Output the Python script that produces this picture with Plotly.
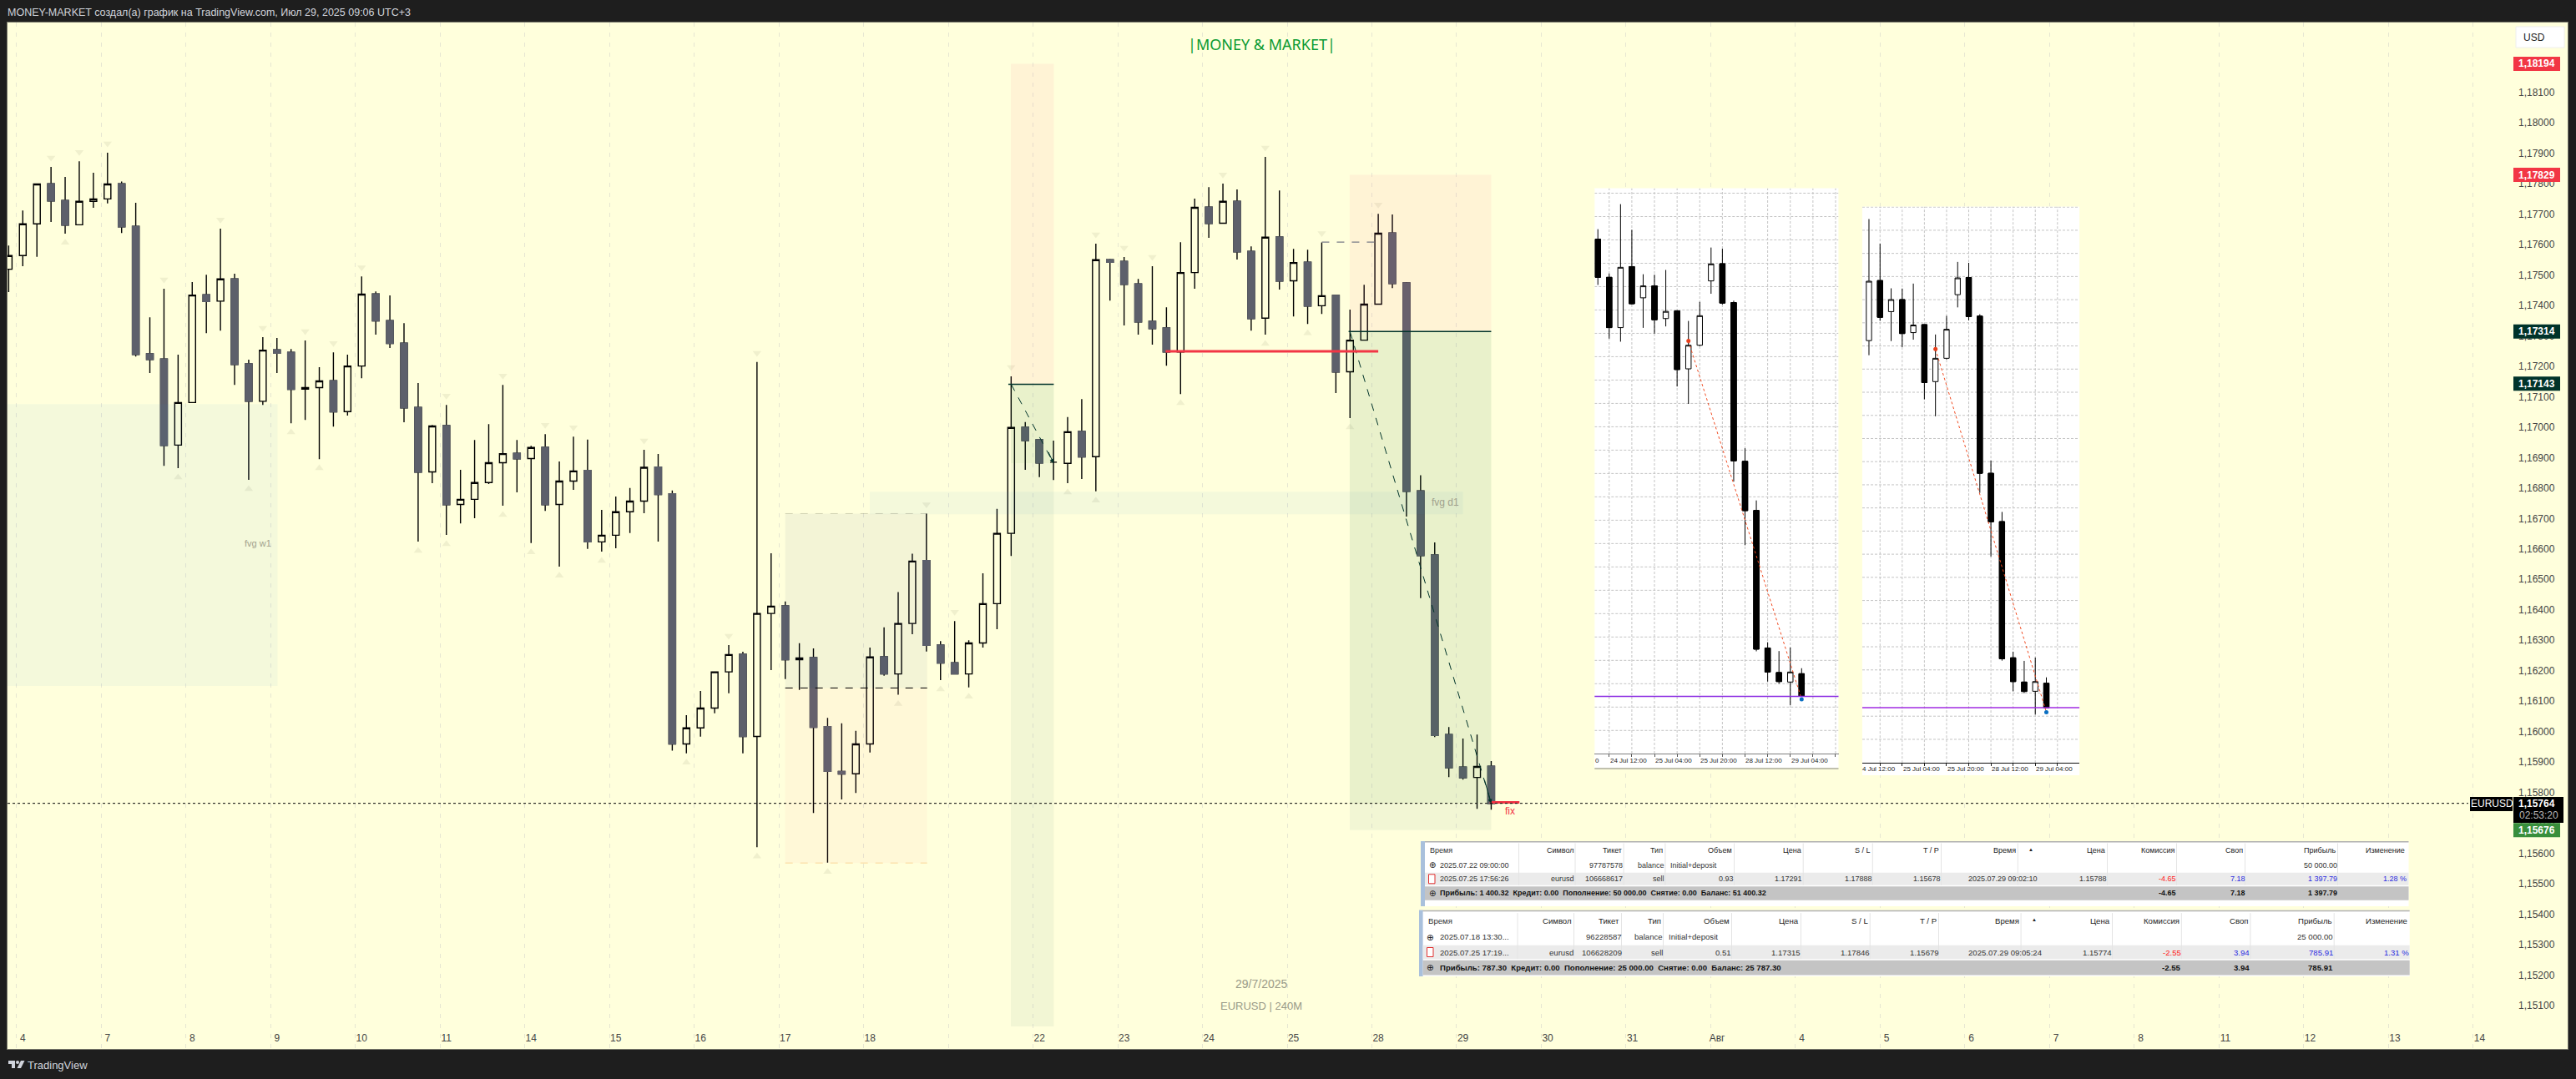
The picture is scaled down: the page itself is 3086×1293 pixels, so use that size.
import plotly.graph_objects as go

W, H = 3086, 1293
BG = "#ffffdc"
PAPER = "#1e1e1e"
DOWN = "#5d606b"
FONT = "Liberation Sans"
PT = 1e-5

# ---------- main EURUSD 4h candles, prices in points (1e-5) ----------
candle_index = list(range(-1, 105))
open_pts = [117519,117564,117668,117800,117745,117665,117742,117750,117800,117660,117241,117224,116941,117081,117435,117414,117487,117208,117085,117254,117246,117125,117130,117153,117051,117201,117438,117350,117276,117065,116853,117005,116746,116763,116818,116883,116914,116897,116934,116746,116823,116858,116623,116645,116722,116757,116869,116781,115959,116012,116077,116196,116254,115984,116388,116413,116236,116243,116016,115869,115861,115959,116246,116189,116355,116562,116284,116226,116189,116291,116420,116651,117000,116959,116885,116881,116986,116903,117550,117545,117471,117348,117326,117247,117508,117723,117670,117742,117578,117358,117625,117481,117542,117399,117433,117182,117286,117404,117638,117474,116791,116580,115990,115883,115849,115886]
high_pts = [117597,117712,117799,117855,117822,117874,117836,117902,117807,117737,117361,117455,117238,117477,117501,117652,117504,117222,117296,117293,117257,117285,117197,117246,117238,117495,117446,117433,117342,117145,117007,117073,116860,116958,117010,117139,116958,116939,116977,116887,116969,116959,116728,116772,116800,116926,116912,116792,116054,116133,116196,116284,116262,117214,116586,116427,116290,116273,116045,116027,116002,116276,116342,116458,116584,116716,116297,116363,116300,116520,116732,117167,117017,116959,116956,117033,117092,117603,117553,117559,117487,117529,117394,117608,117751,117789,117800,117781,117594,117888,117778,117586,117583,117607,117435,117386,117468,117701,117699,117477,116842,116621,116015,115977,115990,115903]
low_pts = [117444,117529,117560,117674,117636,117665,117721,117735,117638,117232,117178,116873,116865,117081,117309,117317,117139,116827,117073,117178,117013,117024,116895,117002,117038,117161,117304,117260,117016,116624,116816,116646,116684,116701,116813,116742,116786,116619,116725,116542,116794,116600,116591,116602,116652,116717,116624,115937,115928,115983,116060,116126,115928,115620,116202,116172,116137,115732,115569,115777,115798,115931,116183,116121,116320,116263,116169,116189,116145,116276,116336,116577,116860,116836,116826,116816,116830,116789,117416,117334,117304,117271,117202,117109,117455,117622,117670,117551,117317,117304,117452,117364,117339,117372,117112,117030,117286,117404,117457,116706,116438,115982,115850,115842,115746,115743]
close_pts = [117564,117668,117799,117743,117664,117742,117750,117799,117658,117239,117222,116940,117081,117434,117413,117487,117206,117085,117253,117243,117124,117130,117152,117050,117201,117437,117349,117275,117063,116852,117004,116745,116763,116818,116883,116913,116896,116933,116745,116823,116856,116623,116645,116722,116757,116868,116779,115959,116012,116077,116196,116253,115984,116388,116412,116236,116242,116014,115869,115860,115959,116245,116189,116355,116560,116283,116225,116189,116291,116420,116651,116999,116956,116882,116885,116985,116902,117550,117542,117469,117346,117324,117247,117508,117722,117669,117742,117576,117357,117624,117480,117541,117398,117432,117181,117286,117404,117637,117472,116789,116578,115987,115881,115848,115885,115764]

pivot_high_index = [2,4,6,10,14,17,20,22,24,30,34,37,39,44,50,52,64,66,70,76,78,80,85,88,92,96]
pivot_low_index = [3,11,16,19,21,28,30,34,36,38,41,47,52,57,62,65,67,74,76,82,88,91,94]

day_labels = ["4","7","8","9","10","11","14","15","16","17","18","","22","23","24","25","28","29","30","31","Авг","4","5","6","7","8","11","12","13","14"]
price_ticks = [1.151,1.152,1.153,1.154,1.155,1.156,1.157,1.158,1.159,1.160,1.161,1.162,1.163,1.164,1.165,1.166,1.167,1.168,1.169,1.170,1.171,1.172,1.173,1.174,1.175,1.176,1.177,1.178,1.179,1.180,1.181]

# ---------- MT chart screenshot 1 ----------
mini1_open = [117718,117558,117347,117603,117472,117522,117385,117417,117174,117273,117543,117615,117452,116786,116580,116003,115900,115860,115895]
mini1_high = [117760,117574,117865,117757,117571,117569,117589,117421,117375,117455,117683,117678,117460,116841,116622,116027,115990,116005,115918]
mini1_low = [117526,117301,117288,117444,117346,117322,117352,117100,117027,117269,117489,117444,116701,116434,115989,115862,115853,115763,115800]
mini1_close = [117558,117347,117600,117447,117522,117380,117415,117171,117273,117397,117614,117450,116788,116579,115998,115902,115862,115902,115800]
mini1_entry, mini1_exit, mini1_level = 1.17291, 1.15788, 1.15800

# ---------- MT chart screenshot 2 ----------
mini2_open = [117351,117606,117474,117525,117385,117419,117177,117276,117546,117619,117455,116788,116583,116005,115902,115863,115897]
mini2_high = [117867,117762,117573,117572,117593,117419,117377,117456,117685,117681,117463,116842,116624,116031,115992,116006,115922]
mini2_low = [117289,117435,117349,117323,117355,117102,117030,117271,117492,117437,116705,116435,115993,115863,115855,115764,115792]
mini2_close = [117603,117450,117525,117381,117417,117173,117276,117399,117617,117453,116788,116582,116001,115904,115862,115904,115793]
mini2_entry, mini2_exit, mini2_level = 1.17315, 1.15774, 1.15793

mini1_dates = ["24 Jul 12:00","25 Jul 04:00","25 Jul 20:00","28 Jul 12:00","29 Jul 04:00"]
mini2_dates = ["25 Jul 04:00","25 Jul 20:00","28 Jul 12:00","29 Jul 04:00"]

# ---------- trade tables ----------
t1_head = ["Символ","Тикет","Тип","Объем","Цена","S / L","T / P","Время","Цена","Комиссия","Своп","Прибыль","Изменение"]
t1_head_x = [1884.5,1942.6,1992.4,2075,2157.7,2240.8,2323,2414.8,2522,2605,2687,2798,2881]
t1_deposit = ["97787578","balance","50 000.00"]
t1_deal = ["eurusd","106668617","sell","0.93","1.17291","1.17888","1.15678","2025.07.29 09:02:10","1.15788","-4.65","7.18","1 397.79","1.28 %"]
t1_deal_x = [1886,1944,1994,2077,2159,2242.7,2325,2440.8,2523.9,2606.5,2689.6,2799.8,2882.8]
t1_sum = "Прибыль: 1 400.32  Кредит: 0.00  Пополнение: 50 000.00  Снятие: 0.00  Баланс: 51 400.32"
t2_head_x = [1883,1940,1990,2072,2155,2237.7,2320,2418.6,2528,2610.8,2693.4,2793.7,2883.6]
t2_deposit = ["96228587","balance","25 000.00"]
t2_deal = ["eurusd","106628209","sell","0.51","1.17315","1.17846","1.15679","2025.07.29 09:05:24","1.15774","-2.55","3.94","785.91","1.31 %"]
t2_deal_x = [1884.8,1942.6,1992,2074.3,2157.3,2240,2323,2447.3,2530.4,2612.7,2695.3,2794.8,2885.5]
t2_sum = "Прибыль: 787.30  Кредит: 0.00  Пополнение: 25 000.00  Снятие: 0.00  Баланс: 25 787.30"

o = [v * PT for v in open_pts]
h = [v * PT for v in high_pts]
l = [v * PT for v in low_pts]
c = [v * PT for v in close_pts]
pts = lambda a: [v * PT for v in a]

X = lambda px: px / W
Y = lambda py: 1 - py / H

fig = go.Figure()

def candles(xv, op, hi, lo, cl, xa, ya, up_fill, down_fill, wick, lw):
    """Wick/outline layer then a body-only layer for down candles."""
    fig.add_trace(go.Candlestick(x=xv, open=op, high=hi, low=lo, close=cl, xaxis=xa, yaxis=ya,
        increasing=dict(line=dict(color=wick, width=lw), fillcolor=up_fill),
        decreasing=dict(line=dict(color=wick, width=lw), fillcolor=down_fill),
        hoverinfo="skip", showlegend=False))
    dx = [a for a, p, q in zip(xv, op, cl) if q < p]
    dop = [p for p, q in zip(op, cl) if q < p]
    dcl = [q for p, q in zip(op, cl) if q < p]
    fig.add_trace(go.Candlestick(x=dx, open=dop, high=dop, low=dcl, close=dcl, xaxis=xa, yaxis=ya,
        decreasing=dict(line=dict(color=down_fill, width=lw), fillcolor=down_fill),
        hoverinfo="skip", showlegend=False))

# white backing of the two pasted charts (the part that holds their date labels), on the main axes
for a, b, top, bot in [(111.3, 128.6, 1.17785, 1.15881), (130.28, 145.66, 1.17725, 1.15856)]:
    fig.add_trace(go.Scatter(x=[a, b, b, a, a], y=[top, top, bot, bot, top], mode="lines", fill="toself",
                             fillcolor="white", line=dict(width=0), hoverinfo="skip", showlegend=False))

candles(candle_index, o, h, l, c, "x", "y", BG, DOWN, "#000000", 1.4)

pivot_colour = "rgba(120,120,90,0.11)"
by_index = dict(zip(candle_index, zip(h, l)))
fig.add_trace(go.Scatter(x=pivot_high_index, y=[by_index[i][0] + 30 * PT for i in pivot_high_index], mode="markers",
                         marker=dict(symbol="triangle-down", size=9, color=pivot_colour), hoverinfo="skip", showlegend=False))
fig.add_trace(go.Scatter(x=pivot_low_index, y=[by_index[i][1] - 30 * PT for i in pivot_low_index], mode="markers",
                         marker=dict(symbol="triangle-up", size=9, color=pivot_colour), hoverinfo="skip", showlegend=False))

# mini charts: every subplot paints plot_bgcolor, so white and the grid are traces on a base subplot
# and the candles sit on an overlaying subplot above them
def mini_base(xa, ya, xr, yr, xgrid, y0, dy):
    fig.add_trace(go.Scatter(x=[xr[0], xr[1], xr[1], xr[0], xr[0]], y=[yr[0], yr[0], yr[1], yr[1], yr[0]],
                             mode="lines", fill="toself", fillcolor="white", line=dict(width=0),
                             xaxis=xa, yaxis=ya, hoverinfo="skip", showlegend=False))
    gx, gy = [], []
    for v in xgrid:
        gx += [v, v, None]
        gy += [yr[0], yr[1], None]
    v = y0
    while v < yr[1]:
        gx += [xr[0], xr[1], None]
        gy += [v, v, None]
        v += dy
    fig.add_trace(go.Scatter(x=gx, y=gy, mode="lines", xaxis=xa, yaxis=ya, line=dict(color="#c4c4c4", width=1, dash="3px,2px"),
                             hoverinfo="skip", showlegend=False))

m1_xr, m1_yr = [-0.29, 21.26], [1.15560, 1.17932]
m2_xr, m2_yr = [-0.6, 18.98], [1.15559, 1.17920]
m1_xg = [1, 3, 5, 7, 9, 11, 13, 15, 17, 19, 21]
m2_xg = [1, 3, 5, 7, 9, 11, 13, 15, 17]
mini_base("x2", "y2", m1_xr, m1_yr, m1_xg, 1.15657, 0.00098)
mini_base("x3", "y3", m2_xr, m2_yr, m2_xg, 1.15659, 0.000982)

j1 = list(range(len(mini1_open)))
j2 = list(range(len(mini2_open)))
candles(j1, pts(mini1_open), pts(mini1_high), pts(mini1_low), pts(mini1_close), "x4", "y4", "white", "#000000", "#000000", 1)
candles(j2, pts(mini2_open), pts(mini2_high), pts(mini2_low), pts(mini2_close), "x5", "y5", "white", "#000000", "#000000", 1)
for xa, ya, x0, x1, e0, e1 in [("x4", "y4", 8, 18, mini1_entry, mini1_exit), ("x5", "y5", 6, 16, mini2_entry, mini2_exit)]:
    fig.add_trace(go.Scatter(x=[x0, x1], y=[e0, e1], mode="lines", xaxis=xa, yaxis=ya,
                             line=dict(color="#f04a20", width=1, dash="dot"), hoverinfo="skip", showlegend=False))
    fig.add_trace(go.Scatter(x=[x0], y=[e0], mode="markers", xaxis=xa, yaxis=ya,
                             marker=dict(color="#e8401c", size=5), hoverinfo="skip", showlegend=False))
    fig.add_trace(go.Scatter(x=[x1], y=[e1], mode="markers", xaxis=xa, yaxis=ya,
                             marker=dict(color="#0a6fc2", size=5), hoverinfo="skip", showlegend=False))

shapes = []
def zone(x0, x1, y0, y1, color):
    shapes.append(dict(type="rect", xref="x", yref="y", x0=x0, x1=x1, y0=y0, y1=y1,
                       fillcolor=color, line=dict(width=0), layer="above"))
def seg(x0, x1, y0, y1, color, width=1, dash="solid"):
    shapes.append(dict(type="line", xref="x", yref="y", x0=x0, x1=x1, y0=y0, y1=y1,
                       line=dict(color=color, width=width, dash=dash), layer="above"))
def prect(x0, x1, y0, y1, color, line=None, lw=0):
    shapes.append(dict(type="rect", xref="paper", yref="paper", x0=X(x0), x1=X(x1), y0=Y(y1), y1=Y(y0),
                       fillcolor=color, line=dict(width=lw, color=line or color), layer="above"))
def pline(x0, x1, y0, y1, color, width=1):
    shapes.append(dict(type="line", xref="paper", yref="paper", x0=X(x0), x1=X(x1), y0=Y(y0), y1=Y(y1),
                       line=dict(color=color, width=width), layer="above"))

ORANGE = "rgba(255,105,140,0.08)"
GREEN = "rgba(35,115,60,0.10)"
PALE = "rgba(0,75,80,0.05)"
FVG = "rgba(30,135,220,0.05)"
TEAL = "#00332a"
RED = "#f23645"

zone(-1.08, 18.05, 1.16150, 1.17076, FVG)
zone(59.99, 102.0, 1.16714, 1.16788, FVG)
zone(54.0, 64.05, 1.16143, 1.16716, "rgba(55,72,120,0.06)")
zone(54.0, 64.05, 1.15568, 1.16143, "rgba(255,115,140,0.05)")
seg(54.0, 64.05, 1.16716, 1.16716, "rgba(90,90,70,0.25)", 1, "dash")
seg(54.0, 64.05, 1.15568, 1.15568, "rgba(240,150,40,0.35)", 1, "dash")
seg(54.0, 64.05, 1.16143, 1.16143, "#000000", 1, "dash")

zone(69.98, 73.02, 1.17141, 1.18194, ORANGE)
zone(69.98, 73.02, 1.16882, 1.17141, GREEN)
zone(69.98, 73.02, 1.15031, 1.16882, PALE)
seg(69.8, 73.02, 1.17141, 1.17141, TEAL, 1.5)
seg(70.0, 73.0, 1.17141, 1.16882, TEAL, 1, "dash")

zone(93.98, 104.0, 1.17314, 1.17829, ORANGE)
zone(93.98, 104.0, 1.15764, 1.17314, GREEN)
zone(93.98, 104.0, 1.15676, 1.15764, PALE)
seg(93.9, 104.0, 1.17314, 1.17314, TEAL, 1.5)
seg(94.0, 104.0, 1.17314, 1.15764, TEAL, 1, "dash")

seg(80.94, 96.0, 1.17249, 1.17249, RED, 3)
seg(92.0, 96.0, 1.17608, 1.17608, "#787b86", 1.2, "dash")
seg(103.9, 106.0, 1.15767, 1.15767, RED, 3)
seg(-1.08, 173.2, 1.15764, 1.15764, "#000000", 1, "dot")

# mini chart levels
shapes.append(dict(type="line", xref="x2 domain", yref="y2", x0=0, x1=1, y0=mini1_level, y1=mini1_level,
                   line=dict(color="#8a2be2", width=1.5), layer="above"))
shapes.append(dict(type="line", xref="x3 domain", yref="y3", x0=0, x1=1, y0=mini2_level, y1=mini2_level,
                   line=dict(color="#a02be2", width=1.5), layer="above"))
pline(1910.3, 2202.5, 921, 921, "#808080", 1)

# ---------- annotations ----------
ann = []
def note(text, px, py, size=12, color="#333333", anchor="left", bold=False, font=FONT):
    ann.append(dict(text=f"<b>{text}</b>" if bold else text, xref="paper", yref="paper", x=X(px), y=Y(py),
                    xanchor=anchor, yanchor="middle", showarrow=False, borderpad=0, borderwidth=0,
                    font=dict(family=font, size=size, color=color)))

note("MONEY-MARKET создал(а) график на TradingView.com, Июл 29, 2025 09:06 UTC+3", 9, 15, 12.5, "#d1d4dc")
note("TradingView", 33, 1276, 13, "#d1d4dc")
note("|MONEY &amp; MARKET|", 1511, 53, 18, "#0a9a32", "center", font="Noto Sans")
note("29/7/2025", 1511, 1179, 14, "#9a9a88", "center")
note("EURUSD | 240M", 1511, 1205, 13, "#9a9a88", "center")
note("fvg w1", 309, 651, 11, "#a0a08c", "center")
note("fvg d1", 1731, 602, 12, "#a0a08c", "center")
note("fix", 1809, 971.7, 12, RED, "center")

# logo
lx = lambda v: f"{X(v):.5f}"
ly = lambda v: f"{Y(v):.5f}"
shapes.append(dict(type="path", xref="paper", yref="paper", layer="above", fillcolor="#d1d4dc", line=dict(width=0),
    path=f"M{lx(10)},{ly(1271)} L{lx(18)},{ly(1271)} L{lx(18)},{ly(1280)} L{lx(14)},{ly(1280)} L{lx(14)},{ly(1275)} L{lx(10)},{ly(1275)} Z"))
shapes.append(dict(type="circle", xref="paper", yref="paper", layer="above", fillcolor="#d1d4dc", line=dict(width=0),
                   x0=X(19), x1=X(23), y0=Y(1275), y1=Y(1271)))
shapes.append(dict(type="path", xref="paper", yref="paper", layer="above", fillcolor="#d1d4dc", line=dict(width=0),
    path=f"M{lx(25)},{ly(1271)} L{lx(29.5)},{ly(1271)} L{lx(25)},{ly(1280)} L{lx(20.5)},{ly(1280)} Z"))

# USD box
shapes.append(dict(type="rect", xref="paper", yref="paper", x0=X(3014), x1=X(3072), y0=Y(57), y1=Y(32),
                   fillcolor="white", line=dict(color="#eeeeee", width=1), layer="above"))
note("USD", 3023, 44.5, 12, "#222222")

# price tags
def tag(price, label, color):
    shapes.append(dict(type="rect", xref="paper", yref="y", xsizemode="scaled", ysizemode="pixel", yanchor=price,
                       x0=X(3011), x1=X(3067), y0=-8.5, y1=8.5, fillcolor=color, line=dict(width=0), layer="above"))
    ann.append(dict(text=f"<b>{label}</b>", xref="paper", yref="y", x=X(3061), y=price, xanchor="right", yanchor="middle",
                    showarrow=False, borderpad=0, borderwidth=0, font=dict(family=FONT, size=12, color="white")))
tag(1.18194, "1,18194", RED)
tag(1.17829, "1,17829", RED)
tag(1.17314, "1,17314", TEAL)
tag(1.17143, "1,17143", TEAL)
tag(1.15676, "1,15676", "#388e3c")
prect(2959, 3010, 955, 972, "#000000")
prect(3011, 3071, 955, 986, "#000000")
note("EURUSD", 2985, 963, 12, "white", "center")
note("<b>1,15764</b>", 3061, 962.7, 12, "white", "right")
note("02:53:20", 3065, 976.7, 12, "#b8b8b8", "right")

# tables
def table(tx0, tx1, ty0, ty1, bar, ys, head_x, deposit, deal, deal_x, time_text, summary, size):
    prect(tx0, tx1, ty0, ty1, "white")
    prect(tx0, tx1, ty0, ty0 + 1.5, "#b0b0b0")
    prect(tx0, bar, ty0, ty1, "#a9c0dc")
    yh, y1, y2, y3 = ys
    rh = (y3 - y2)
    prect(bar, tx1, y2 - rh / 2 + 1, y2 + rh / 2 - 1, "#ebebeb")
    prect(bar, tx1, y3 - rh / 2 + 0.5, y3 + rh / 2, "#c4c4c4")
    xs = [head_x[0] - 65] + [v + 2.5 for v in head_x[:-1]]
    for xv in xs:
        pline(xv, xv, yh - rh / 2, y2 + rh / 2 - 1, "#e4e4e4", 1)
    note("Время", head_x[0] - 172, yh, size)
    for t, xv in zip(t1_head, head_x):
        note(t, xv, yh, size, "#222222", "right")
    note("▲", head_x[7] + 18, yh - 1, 6, "#222222", "center")
    note("⊕", tx0 + 13.5, y1, size + 1, "#222222", "center", font="DejaVu Sans")
    note(time_text[0], 1725, y1, size, "#333333")
    note(deposit[0], deal_x[1], y1, size, "#333333", "right")
    note(deposit[1], deal_x[2], y1, size, "#333333", "right")
    note("Initial+deposit", deal_x[2] + 6.5, y1, size, "#333333")
    note(deposit[2], deal_x[11], y1, size, "#333333", "right")
    prect(tx0 + 9.5, tx0 + 17, y2 - 5.5, y2 + 5.5, "white", "#e03030", 1)
    note(time_text[1], 1725, y2, size, "#333333")
    colours = ["#333333"] * 9 + ["#ff2020", "#2a2ae0", "#2a2ae0", "#2a2ae0"]
    for t, xv, col in zip(deal, deal_x, colours):
        note(t, xv, y2, size, col, "right")
    note("⊕", tx0 + 13.5, y3, size + 1, "#222222", "center", font="DejaVu Sans")
    note(summary, 1725, y3, size, "#111111", bold=True)
    for idx in (9, 10, 11):
        note(deal[idx], deal_x[idx], y3, size, "#111111", "right", bold=True)

table(1702, 2885.5, 1008, 1086, 1707, (1019, 1036.7, 1053.3, 1070.3), t1_head_x, t1_deposit, t1_deal, t1_deal_x,
      ("2025.07.22 09:00:00", "2025.07.25 17:56:26"), t1_sum, 9)
table(1700, 2886.7, 1090.7, 1170, 1704.6, (1103.3, 1122.7, 1141, 1159.3), t2_head_x, t2_deposit, t2_deal, t2_deal_x,
      ("2025.07.18 13:30...", "2025.07.25 17:19..."), t2_sum, 9.6)

# mini axis labels
for t, jv in zip(mini1_dates, [1, 5, 9, 13, 17]):
    ann.append(dict(text=t, xref="x2", yref="paper", x=jv, y=Y(911), xanchor="left", yanchor="middle", showarrow=False,
                    borderpad=0, font=dict(family=FONT, size=8, color="#222222")))
note("0", 1910.5, 911, 8, "#222222")
for t, jv in zip(mini2_dates, [3, 7, 11, 15]):
    ann.append(dict(text=t, xref="x3", yref="paper", x=jv, y=Y(921.6), xanchor="left", yanchor="middle", showarrow=False,
                    borderpad=0, font=dict(family=FONT, size=8, color="#222222")))
note("4 Jul 12:00", 2231, 921.6, 8, "#222222")

# arrow tips of the projected moves
for xa, ya, xt, yt in [(72.6, 1.16922, 73.0, 1.16882), (103.5, 1.15845, 104.0, 1.15764)]:
    ann.append(dict(x=xt, y=yt, ax=xa, ay=ya, xref="x", yref="y", axref="x", ayref="y", text="", showarrow=True,
                    arrowhead=2, arrowsize=1, arrowwidth=1, arrowcolor=TEAL))

mini_axis = dict(showticklabels=False, showgrid=False, zeroline=False, fixedrange=True)
over_axis = dict(visible=False, showgrid=False, zeroline=False, fixedrange=True)

fig.update_layout(
    width=W, height=H, autosize=False,
    margin=dict(l=0, r=0, t=0, b=0, pad=0),
    paper_bgcolor=PAPER, plot_bgcolor=BG,
    separators=", ",
    showlegend=False,
    boxmode="overlay", boxgap=0.32,
    font=dict(family=FONT),
    shapes=shapes, annotations=ann,
    xaxis=dict(domain=[X(9), X(3076)], range=[-1.082, 180.24], anchor="y",
               tickmode="array", tickvals=[6 * k for k in range(len(day_labels))], ticktext=day_labels,
               ticklabelposition="inside", ticklabelstandoff=6, ticks="", showgrid=False, zeroline=False,
               tickfont=dict(family=FONT, size=12, color="#444444"),
               showline=True, mirror=True, linecolor="#77776a", linewidth=1,
               rangeslider=dict(visible=False),
               minor=dict(tickmode="array", tickvals=[-0.45 + 6 * k for k in range(len(day_labels))], showgrid=True,
                          griddash="5px,7px", gridcolor="#e6e6d2", gridwidth=1, ticks="")),
    yaxis=dict(domain=[Y(1257), Y(27)], range=[1.14957, 1.183295], anchor="x", side="right",
               tickmode="array", tickvals=price_ticks, tickformat=".5f", ticklabelposition="inside", ticklabelstandoff=15,
               ticks="", showgrid=False, zeroline=False, tickfont=dict(family=FONT, size=12, color="#444444"),
               showline=True, mirror=True, linecolor="#77776a", linewidth=1),
    xaxis2=dict(mini_axis, domain=[X(1910.3), X(2202.5)], range=m1_xr, anchor="y2",
                tickmode="array", tickvals=m1_xg, ticks="outside", ticklen=3,
                tickcolor="#555555", showline=True, linecolor="#808080"),
    yaxis2=dict(mini_axis, domain=[Y(903), Y(225.5)], range=m1_yr, anchor="x2"),
    xaxis3=dict(mini_axis, domain=[X(2231), X(2491.1)], range=m2_xr, anchor="y3",
                tickmode="array", tickvals=m2_xg, ticks="outside", ticklen=3,
                tickcolor="#222222", showline=True, linecolor="#111111"),
    yaxis3=dict(mini_axis, domain=[Y(914.2), Y(247.5)], range=m2_yr, anchor="x3"),
    xaxis4=dict(over_axis, overlaying="x2", range=m1_xr, anchor="y4", rangeslider=dict(visible=False)),
    yaxis4=dict(over_axis, overlaying="y2", range=m1_yr, anchor="x4"),
    xaxis5=dict(over_axis, overlaying="x3", range=m2_xr, anchor="y5", rangeslider=dict(visible=False)),
    yaxis5=dict(over_axis, overlaying="y3", range=m2_yr, anchor="x5"),
)

fig.write_html("out.html", config={"displayModeBar": False},
               post_script="document.body.style.margin='0';document.documentElement.style.overflow='hidden';")
